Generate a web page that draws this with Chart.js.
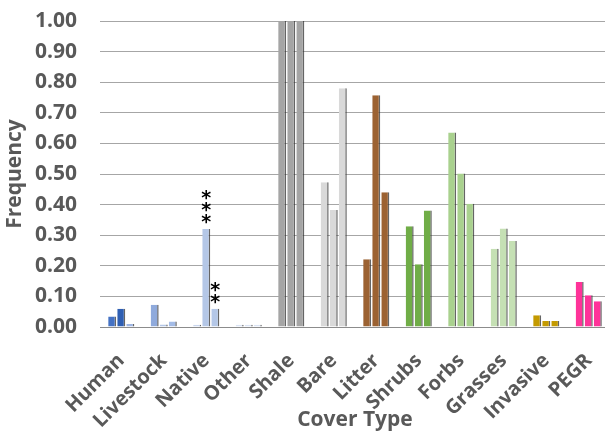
<!DOCTYPE html>
<html>
<head>
<meta charset="utf-8">
<script src="https://cdn.jsdelivr.net/npm/chart.js@4"></script>
<style>
  html, body { margin: 0; padding: 0; background: #fff; overflow: hidden; }
  #wrap { width: 610px; height: 434px; }
</style>
</head>
<body>
<div id="wrap"><canvas id="coverChart" width="610" height="434"></canvas></div>
<script>
// Данные
const categories = ['Human', 'Livestock', 'Native', 'Other', 'Shale', 'Bare', 'Litter',
  'Shrubs', 'Forbs', 'Grasses', 'Invasive', 'PEGR'];
const series1 = [0.034, 0.073, 0.007, 0.007, 1.00, 0.473, 0.221, 0.329, 0.636, 0.256, 0.038, 0.147];
const series2 = [0.060, 0.008, 0.320, 0.007, 1.00, 0.382, 0.757, 0.205, 0.502, 0.322, 0.020, 0.104];
const series3 = [0.010, 0.018, 0.060, 0.007, 1.00, 0.780, 0.440, 0.381, 0.403, 0.281, 0.020, 0.084];
const yTicks = [0, 0.1, 0.2, 0.3, 0.4, 0.5, 0.6, 0.7, 0.8, 0.9, 1.0];
// отметки значимости: [серия, категория, текст]
const marks = [[1, 2, '***'], [2, 2, '**']];

// Цвета по категориям
const colors1 = ['#4472c4', '#8faadc', '#c9d6ee', '#dae3f3', '#a5a5a5', '#d9d9d9', '#9c6232',
  '#70ad47', '#a9d18e', '#c5e0b4', '#c49a00', '#ff3399'];
const colors2 = ['#2f5fb3', '#b4c7e7', '#b4c7e7', '#dae3f3', '#a5a5a5', '#d9d9d9', '#9c6232',
  '#70ad47', '#a9d18e', '#c5e0b4', '#c49a00', '#ff3399'];
const colors3 = ['#9db5e4', '#a3bbe6', '#b4c7e7', '#dae3f3', '#a5a5a5', '#d9d9d9', '#9c6232',
  '#70ad47', '#a9d18e', '#c5e0b4', '#c49a00', '#ff3399'];

const textColor = '#595959';
const fontFamily = '"Open Sans", sans-serif';

function makeSet(data, colors) {
  return {
    data: data,
    backgroundColor: colors,
    borderColor: 'rgba(50,50,50,0.75)',
    borderWidth: { top: 0, left: 0, bottom: 0, right: 1.5 },
    borderSkipped: false,
    categoryPercentage: 0.64,
    barPercentage: 0.88
  };
}

// Плагин для звёздочек над столбцами
const starsPlugin = {
  id: 'stars',
  afterDatasetsDraw(chart) {
    const ctx = chart.ctx;
    ctx.save();
    ctx.font = 'bold 19px "DejaVu Sans", sans-serif';
    ctx.fillStyle = '#000';
    ctx.textAlign = 'center';
    ctx.textBaseline = 'alphabetic';
    const m = ctx.measureText('*');
    const shift = (m.actualBoundingBoxAscent - m.actualBoundingBoxDescent) / 2;
    marks.forEach(([ds, idx, txt]) => {
      const bar = chart.getDatasetMeta(ds).data[idx];
      for (let k = 0; k < txt.length; k++) {
        const cy = bar.y - 10 - k * 12;
        ctx.fillText('*', bar.x, cy + shift);
      }
    });
    ctx.restore();
  }
};

const ctx = document.getElementById('coverChart').getContext('2d');
new Chart(ctx, {
  type: 'bar',
  data: {
    labels: categories,
    datasets: [makeSet(series1, colors1), makeSet(series2, colors2), makeSet(series3, colors3)]
  },
  options: {
    responsive: false,
    animation: false,
    devicePixelRatio: 1,
    layout: { padding: { top: 21, right: 0, bottom: 0, left: 0 } },
    plugins: {
      legend: { display: false },
      tooltip: { enabled: false }
    },
    scales: {
      x: {
        grid: { display: false },
        border: { display: true, color: '#8c8c8c', width: 1 },
        ticks: {
          color: textColor,
          font: { family: fontFamily, size: 20, weight: 'bold' },
          minRotation: 45,
          maxRotation: 45,
          padding: 14
        },
        title: {
          display: true,
          text: 'Cover Type',
          color: textColor,
          font: { family: fontFamily, size: 21, weight: 'bold' },
          padding: { top: 0, bottom: 1 }
        },
        afterFit(scale) {
          scale.height = 107;
          scale.paddingLeft = 0;
          scale.paddingRight = 0;
        }
      },
      y: {
        min: 0,
        max: 1,
        afterBuildTicks(scale) { scale.ticks = yTicks.map(v => ({ value: v })); },
        grid: { color: '#a6a6a6', lineWidth: 1, drawTicks: false },
        border: { display: false },
        ticks: {
          color: textColor,
          font: { family: fontFamily, size: 21, weight: 'bold' },
          padding: 23,
          callback: v => Number(v).toFixed(2)
        },
        title: {
          display: true,
          text: 'Frequency',
          color: textColor,
          font: { family: fontFamily, size: 21, weight: 'bold' },
          padding: { top: 2, bottom: 0 }
        },
        afterFit(scale) {
          scale.width = 100;
          scale.paddingTop = 0;
          scale.paddingBottom = 0;
        }
      }
    }
  },
  plugins: [starsPlugin]
});
</script>
</body>
</html>
